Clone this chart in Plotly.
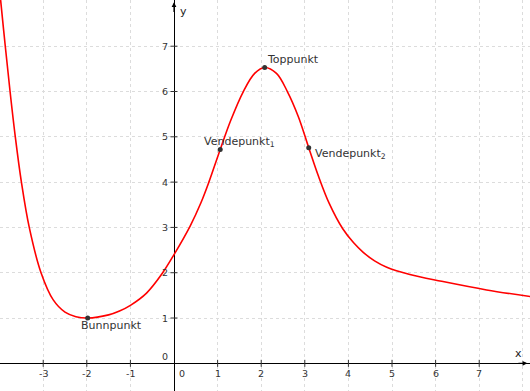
import plotly.graph_objects as go

# curve samples
curve_x = [-4.03, -3.975, -3.87, -3.76, -3.64, -3.50, -3.32, -3.05, -2.77, -2.50, -2.25, -1.98, -1.50, -1.25, -1.0,
           -0.63, -0.28, 0.0, 0.37, 0.62, 0.80, 1.06, 1.30, 1.59, 1.85, 2.08, 2.35, 2.60, 2.85, 3.09,
           3.31, 3.56, 3.87, 4.12, 4.34, 4.60, 4.88, 5.41, 6.14, 7.17, 8.20]
curve_y = [8.55, 8.00, 7.00, 6.00, 5.00, 4.00, 3.00, 2.00, 1.40, 1.13, 1.03, 1.00, 1.07, 1.155, 1.28,
           1.55, 1.97, 2.40, 3.03, 3.55, 4.00, 4.72, 5.36, 6.00, 6.40, 6.53, 6.40, 6.00, 5.45, 4.76,
           4.14, 3.53, 2.97, 2.66, 2.45, 2.26, 2.12, 1.96, 1.81, 1.62, 1.47]

pt_names = ["Bunnpunkt", "Vendepunkt<sub>1</sub>", "Toppunkt", "Vendepunkt<sub>2</sub>"]
pt_x = [-1.98, 1.06, 2.08, 3.09]
pt_y = [1.00, 4.72, 6.53, 4.76]

x_ticks = [-3, -2, -1, 0, 1, 2, 3, 4, 5, 6, 7]
y_ticks = [0, 1, 2, 3, 4, 5, 6, 7]

X0, X1 = -3.991, 8.165
Y0, Y1 = -0.611, 8.02

fig = go.Figure()

# tick marks
fig.add_trace(go.Scatter(x=[t for t in x_ticks if t != 0], y=[0]*10, mode="markers",
                         marker=dict(symbol="line-ns", size=5, line=dict(width=1, color="#333")),
                         hoverinfo="skip", showlegend=False))
fig.add_trace(go.Scatter(x=[0]*7, y=[t for t in y_ticks if t != 0], mode="markers",
                         marker=dict(symbol="line-ew", size=5, line=dict(width=1, color="#333")),
                         hoverinfo="skip", showlegend=False))

fig.add_trace(go.Scatter(x=curve_x, y=curve_y, mode="lines", line=dict(color="#ff0000", width=1.6, shape="spline", smoothing=1.0),
                         hoverinfo="skip", showlegend=False))
fig.add_trace(go.Scatter(x=pt_x, y=pt_y, mode="markers", marker=dict(color="#333333", size=5),
                         hoverinfo="skip", showlegend=False))

font_tick = dict(family="DejaVu Sans", size=9.5, color="#333")
font_lbl = dict(family="DejaVu Sans", size=11, color="#333")
ann = []
for t in x_ticks:
    if t == 0:
        ann.append(dict(x=t, y=0, text="0", showarrow=False, xanchor="left", yanchor="top", xshift=3, yshift=-3, font=font_tick))
    else:
        ann.append(dict(x=t, y=0, text=str(t), showarrow=False, xanchor="center", yanchor="top", yshift=-3, font=font_tick))
for t in y_ticks:
    if t == 0:
        ann.append(dict(x=0, y=t, text="0", showarrow=False, xanchor="right", yanchor="bottom", xshift=-4, yshift=-1, font=font_tick))
    else:
        ann.append(dict(x=0, y=t, text=str(t), showarrow=False, xanchor="right", yanchor="middle", xshift=-4, font=font_tick))

# point labels
offsets = [(-9, -7, "left", "middle"), (-18, 8, "left", "middle"), (0, 8, "left", "middle"), (4, -6, "left", "middle")]
for n, x, y, (dx, dy, xa, ya) in zip(pt_names, pt_x, pt_y, offsets):
    ann.append(dict(x=x, y=y, text=n, showarrow=False, xanchor=xa, yanchor=ya, xshift=dx, yshift=dy, font=font_lbl))

# axis labels and arrows
ann.append(dict(x=X1, y=0, text="x", showarrow=False, xanchor="right", yanchor="bottom", xshift=-6, yshift=1, font=dict(family="DejaVu Sans", size=11, color="#222")))
ann.append(dict(x=0, y=Y1, text="y", showarrow=False, xanchor="left", yanchor="top", xshift=4, yshift=-3, font=dict(family="DejaVu Sans", size=11, color="#222")))
ann.append(dict(x=X1 - 0.06, y=0, ax=X1 - 0.3, ay=0, axref="x", ayref="y", xref="x", yref="y", text="",
                showarrow=True, arrowhead=2, arrowsize=0.8, arrowwidth=1.2, arrowcolor="#000"))
ann.append(dict(x=0, y=Y1 - 0.05, ax=0, ay=Y1 - 0.3, axref="x", ayref="y", xref="x", yref="y", text="",
                showarrow=True, arrowhead=2, arrowsize=0.8, arrowwidth=1.2, arrowcolor="#000"))

fig.update_layout(
    width=530, height=391, margin=dict(l=0, r=0, t=0, b=0),
    plot_bgcolor="white", paper_bgcolor="white", annotations=ann,
    xaxis=dict(range=[X0, X1], dtick=1, tick0=0, showgrid=True, gridcolor="#dcdcdc", griddash="dot", gridwidth=1,
               zeroline=True, zerolinecolor="#000", zerolinewidth=1.3, showticklabels=False, ticks=""),
    yaxis=dict(range=[Y0, Y1], dtick=1, tick0=0, showgrid=True, gridcolor="#dcdcdc", griddash="dot", gridwidth=1,
               zeroline=True, zerolinecolor="#000", zerolinewidth=1.3, showticklabels=False, ticks=""),
)
fig.write_html("out.html")
